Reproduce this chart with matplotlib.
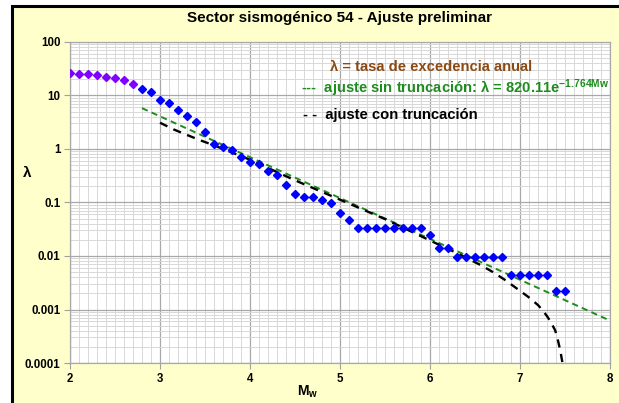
import matplotlib
matplotlib.use("Agg")
import matplotlib.pyplot as plt
from matplotlib.patches import Rectangle
from matplotlib.ticker import MultipleLocator, LogLocator, FixedLocator, FixedFormatter, NullFormatter

plt.rcParams['font.family'] = ['Liberation Sans', 'DejaVu Sans']
plt.rcParams['mathtext.fontset'] = 'custom'
plt.rcParams['mathtext.rm'] = 'Liberation Sans'
plt.rcParams['mathtext.bf'] = 'Liberation Sans:bold'
plt.rcParams['mathtext.it'] = 'Liberation Sans:italic'

# ---------------- data ----------------
# observed annual exceedance rates (first group drawn in purple)
mw_low = [2.0, 2.1, 2.2, 2.3, 2.4, 2.5, 2.6, 2.7]
lam_low = [26.0, 25.5, 24.9, 23.9, 22.5, 21.2, 19.2, 16.6]

mw_obs = [2.8, 2.9, 3.0, 3.1, 3.2, 3.3, 3.4, 3.5, 3.6, 3.7, 3.8, 3.9,
          4.0, 4.1, 4.2, 4.3, 4.4, 4.5, 4.6, 4.7, 4.8, 4.9, 5.0, 5.1,
          5.2, 5.3, 5.4, 5.5, 5.6, 5.7, 5.8, 5.9, 6.0, 6.1, 6.2,
          6.3, 6.4, 6.5, 6.6, 6.7, 6.8, 6.9, 7.0, 7.1, 7.2, 7.3, 7.4, 7.5]
lam_obs = [13.4, 11.5, 8.3, 7.2, 5.4, 4.1, 3.2, 2.05, 1.22, 1.10, 0.96, 0.70,
           0.58, 0.52, 0.38, 0.32, 0.21, 0.146, 0.128, 0.128, 0.111, 0.097, 0.064, 0.048,
           0.033, 0.033, 0.033, 0.033, 0.033, 0.033, 0.033, 0.033, 0.0244, 0.0143, 0.0143,
           0.0095, 0.0095, 0.0095, 0.0095, 0.0095, 0.0095, 0.0045, 0.0045, 0.0045, 0.0045, 0.0045,
           0.00225, 0.00225]

# fit without truncation (straight line on semilog axes)
mw_fit = [2.8, 8.0]
lam_fit = [5.8, 0.00062]

# fit with truncation
mw_trunc = [3.0, 3.15, 3.3, 3.45, 3.6, 3.8, 4.0, 4.5, 5.0, 5.5, 6.0, 6.3, 6.56, 6.7,
            6.83, 6.96, 7.09, 7.2, 7.26, 7.31, 7.35, 7.39, 7.41, 7.43, 7.45, 7.46, 7.47, 7.48]
lam_trunc = [3.1, 2.33, 1.83, 1.45, 1.17, 0.86, 0.63, 0.26, 0.113, 0.049, 0.0195, 0.0113,
             0.0068, 0.0050, 0.0036, 0.0025, 0.00173, 0.00121, 0.00093, 0.00071, 0.00055,
             0.00041, 0.00032, 0.00023, 0.000165, 0.00013, 0.000105, 0.00008]

x_ticks = [2, 3, 4, 5, 6, 7, 8]
y_ticks = [0.0001, 0.001, 0.01, 0.1, 1, 10, 100]
y_tick_labels = ['0.0001', '0.001', '0.01', '0.1', '1', '10', '100']

title = 'Sector sismogénico 54 - Ajuste preliminar'

# ---------------- figure ----------------
W, H = 619, 403
fig = plt.figure(figsize=(W / 100, H / 100), dpi=100, facecolor='white')
frame = Rectangle((12 / W, -0.2), 1.3, 1.2 - 6 / H, transform=fig.transFigure,
                  facecolor='#FFFFCC', edgecolor='black', lw=2.2, zorder=-10)
fig.patches.append(frame)

ax = fig.add_axes([70 / W, 1 - 363 / H, 540 / W, 321 / H])
ax.set_zorder(1)
ax.set_facecolor('white')
ax.set_yscale('log')
ax.set_xlim(2, 8)
ax.set_ylim(1e-4, 100)

ax.xaxis.set_major_locator(FixedLocator(x_ticks))
ax.xaxis.set_minor_locator(MultipleLocator(0.1))
ax.yaxis.set_major_locator(FixedLocator(y_ticks))
ax.yaxis.set_major_formatter(FixedFormatter(y_tick_labels))
ax.yaxis.set_minor_locator(LogLocator(base=10, subs=range(2, 10), numticks=20))
ax.yaxis.set_minor_formatter(NullFormatter())

ax.grid(True, which='major', color='#A8A8A8', lw=0.9)
ax.grid(True, which='minor', color='#D8D8D8', lw=0.7)
ax.set_axisbelow(True)
for s in ax.spines.values():
    s.set_color('#A8A8A8')
    s.set_linewidth(0.9)

ax.tick_params(which='major', length=4, color='#A0A0A0', labelsize=8.3, pad=3)
ax.tick_params(which='minor', length=0)
for lab in ax.get_xticklabels() + ax.get_yticklabels():
    lab.set_fontweight('bold')

green = '#1E8C1E'
ax.plot(mw_fit, lam_fit, color=green, lw=1.4, ls=(0, (3.2, 2.2)), zorder=2)
ax.plot(mw_trunc, lam_trunc, color='black', lw=1.7, ls=(0, (3.5, 2.8)), zorder=2)
ax.plot(mw_low, lam_low, ls='none', marker='D', ms=4.4, color='#8000FF', mec='#8000FF', zorder=3)
ax.plot(mw_obs, lam_obs, ls='none', marker='D', ms=4.4, color='#0000FF', mec='#0000FF', zorder=3)

# ---------------- texts ----------------
def fx(px):
    return px / W

def fy(py):
    return 1 - py / H

fig.text(fx(340), fy(18), title, ha='center', va='center', fontsize=11, fontweight='bold')
fig.text(fx(27), fy(173), 'λ', ha='center', va='center', fontsize=11, fontweight='bold')
fig.text(fx(308), fy(392), r'$\mathbf{M_w}$', ha='center', va='center', fontsize=10)

fs_leg = 10.6
fig.text(fx(330), fy(67), 'λ = tasa de excedencia anual', ha='left', va='center',
         fontsize=fs_leg, fontweight='bold', color='#8B4A14', zorder=5)
fig.text(fx(301), fy(88), '---  ajuste sin truncación: λ = 820.11e$^{\\mathbf{-1.764Mw}}$',
         ha='left', va='center', fontsize=fs_leg, fontweight='bold', color=green, zorder=5)
fig.text(fx(303), fy(115), '- -  ajuste con truncación', ha='left', va='center',
         fontsize=fs_leg, fontweight='bold', color='black', zorder=5)

fig.savefig('out.png', dpi=100, facecolor='white')
